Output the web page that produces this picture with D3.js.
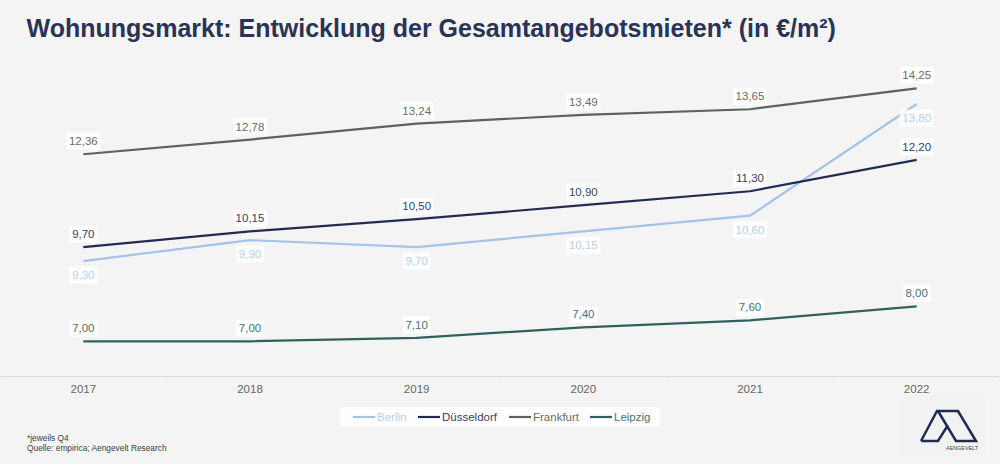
<!DOCTYPE html>
<html>
<head>
<meta charset="utf-8">
<script src="https://cdn.jsdelivr.net/npm/d3@7"></script>
<style>
html, body { margin: 0; padding: 0; background: #f4f4f4; overflow: hidden; }
text { font-family: "Liberation Sans", Arial, sans-serif; }
</style>
</head>
<body>
<div id="chart"></div>
<script>
// data
const years = ["2017", "2018", "2019", "2020", "2021", "2022"];
const berlin = [9.30, 9.90, 9.70, 10.15, 10.60, 13.80];
const duesseldorf = [9.70, 10.15, 10.50, 10.90, 11.30, 12.20];
const frankfurt = [12.36, 12.78, 13.24, 13.49, 13.65, 14.25];
const leipzig = [7.00, 7.00, 7.10, 7.40, 7.60, 8.00];

const seriesList = [
    { name: "Berlin", values: berlin, color: "#a3c4e8", text: "#b4cfec", below: true },
    { name: "Düsseldorf", values: duesseldorf, color: "#222c50", text: "#363f60", below: false },
    { name: "Frankfurt", values: frankfurt, color: "#606060", text: "#6a6a6a", below: false },
    { name: "Leipzig", values: leipzig, color: "#2f625f", text: "#4a7370", below: false }
];

const width = 1000, height = 464;
const svg = d3.select("#chart").append("svg")
    .attr("width", width)
    .attr("height", height)
    .style("display", "block");

svg.append("rect").attr("width", width).attr("height", height).attr("fill", "#f4f4f4");

// title
svg.append("text")
    .attr("x", 26.5).attr("y", 37)
    .attr("font-size", 25).attr("font-weight", "bold")
    .attr("fill", "#2a3356")
    .text("Wohnungsmarkt: Entwicklung der Gesamtangebotsmieten* (in €/m²)");

// scales
const x = d3.scaleBand().domain(years).range([0, 1000]).paddingInner(0).paddingOuter(0);
const xPos = d => x(d) + x.bandwidth() / 2;
const y = d3.scaleLinear().domain([7, 14.25]).range([341.3, 88.3]);

// x axis
const axis = svg.append("g")
    .attr("transform", "translate(0,376)")
    .call(d3.axisBottom(x).tickSize(0).tickPadding(9));
axis.select(".domain").attr("stroke", "#d9d9d9").attr("stroke-width", 1);
axis.selectAll("text")
    .attr("font-size", 11.5)
    .attr("fill", "#666666")
    .style("font-family", '"Liberation Sans", Arial, sans-serif');
axis.selectAll(".sep")
    .data(d3.range(0, 7))
    .enter().append("line")
    .attr("class", "sep")
    .attr("x1", i => i * x.bandwidth()).attr("x2", i => i * x.bandwidth())
    .attr("y1", 0).attr("y2", 4)
    .attr("stroke", "#e0e0e0");

// lines
const line = d3.line()
    .x((d, i) => xPos(years[i]))
    .y(d => y(d));

svg.selectAll(".series")
    .data(seriesList)
    .enter().append("path")
    .attr("class", "series")
    .attr("d", d => line(d.values))
    .attr("fill", "none")
    .attr("stroke", d => d.color)
    .attr("stroke-width", 2.2);

// value labels with white boxes
const fmt = v => v.toFixed(2).replace(".", ",");
const labelLayer = svg.append("g");
seriesList.forEach(s => {
    s.values.forEach((v, i) => {
        const label = fmt(v);
        const cy = y(v) + (s.below ? 14 : -13);
        const cx = xPos(years[i]);
        const w = label.length > 4 ? 34 : 28;
        const g = labelLayer.append("g");
        g.append("rect")
            .attr("x", cx - w / 2).attr("y", cy - 8.5)
            .attr("width", w).attr("height", 17)
            .attr("fill", "#ffffff").attr("fill-opacity", 0.85);
        g.append("text")
            .attr("x", cx).attr("y", cy + 4)
            .attr("text-anchor", "middle")
            .attr("font-size", 11.5)
            .attr("fill", s.text)
            .text(label);
    });
});

// legend
const legend = svg.append("g");
legend.append("rect")
    .attr("x", 340).attr("y", 407).attr("width", 320).attr("height", 19)
    .attr("fill", "#ffffff").attr("fill-opacity", 0.85);
const legendX = [353, 418, 509, 590];
seriesList.forEach((s, i) => {
    legend.append("line")
        .attr("x1", legendX[i]).attr("x2", legendX[i] + 22)
        .attr("y1", 417).attr("y2", 417)
        .attr("stroke", s.color).attr("stroke-width", 2.2);
    legend.append("text")
        .attr("x", legendX[i] + 24).attr("y", 421)
        .attr("font-size", 11.5)
        .attr("fill", s.text)
        .text(s.name);
});

// footnote
svg.append("text").attr("x", 27).attr("y", 440.5)
    .attr("font-size", 8.35).attr("fill", "#404040").text("*jeweils Q4");
svg.append("text").attr("x", 27).attr("y", 450.5)
    .attr("font-size", 8.35).attr("fill", "#404040").text("Quelle: empirica; Aengevelt Research");

// logo
const logo = svg.append("g");
logo.append("rect").attr("x", 900).attr("y", 394).attr("width", 85).attr("height", 62).attr("fill", "#f2f2f2");
logo.append("path")
    .attr("d", "M921 441 L937 411 L958 411 L976 441 L956 441 L938 411 M921 441 L938 441 L948 425")
    .attr("fill", "none").attr("stroke", "#222c50").attr("stroke-width", 2.5).attr("stroke-linejoin", "miter");
logo.append("text").attr("x", 978).attr("y", 450)
    .attr("text-anchor", "end").attr("font-size", 5.4).attr("fill", "#444444").text("AENGEVELT");
</script>
</body>
</html>
